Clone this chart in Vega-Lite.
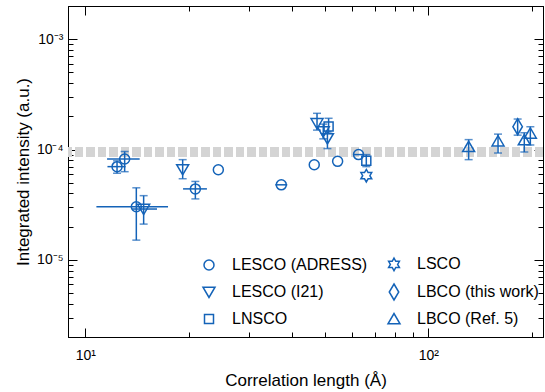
{
  "$schema": "https://vega.github.io/schema/vega-lite/v6.json",
  "width": 475,
  "height": 331,
  "autosize": {"type": "none"},
  "padding": {"left": 68, "top": 6, "right": 2, "bottom": 55},
  "config": {
    "font": "Liberation Sans",
    "view": {"stroke": "black", "strokeWidth": 1},
    "axis": {
      "grid": false,
      "domainColor": "black",
      "domainWidth": 1,
      "tickColor": "black",
      "tickWidth": 1,
      "labelColor": "black",
      "titleColor": "black",
      "labelFontSize": 14,
      "titleFontSize": 17,
      "titleFontWeight": "normal",
      "labelFlush": false,
      "labelOverlap": false
    }
  },
  "data": {
    "values": [
      {"s": "LESCO (ADRESS)", "x": 12.37, "y": 7.0e-5, "xlo": 11.6, "xhi": 13.1, "ylo": 6.1e-5, "yhi": 7.9e-5},
      {"s": "LESCO (ADRESS)", "x": 13.02, "y": 8.2e-5, "xlo": 11.57, "xhi": 14.4, "ylo": 6.3e-5, "yhi": 9.6e-5},
      {"s": "LESCO (ADRESS)", "x": 20.93, "y": 4.4e-5, "xlo": 19.27, "xhi": 22.62, "ylo": 3.57e-5, "yhi": 5.14e-5},
      {"s": "LESCO (ADRESS)", "x": 24.42, "y": 6.56e-5, "xlo": null, "xhi": null, "ylo": null, "yhi": null},
      {"s": "LESCO (ADRESS)", "x": 14.08, "y": 3.03e-5, "xlo": 10.77, "xhi": 17.42, "ylo": 1.51e-5, "yhi": 4.5e-5},
      {"s": "LESCO (ADRESS)", "x": 37.27, "y": 4.79e-5, "xlo": 35.8, "xhi": 38.8, "ylo": null, "yhi": null},
      {"s": "LESCO (ADRESS)", "x": 46.5, "y": 7.29e-5, "xlo": null, "xhi": null, "ylo": null, "yhi": null},
      {"s": "LESCO (ADRESS)", "x": 54.4, "y": 7.82e-5, "xlo": null, "xhi": null, "ylo": null, "yhi": null},
      {"s": "LESCO (ADRESS)", "x": 62.6, "y": 9.0e-5, "xlo": 60.5, "xhi": 64.8, "ylo": null, "yhi": null},
      {"s": "LESCO (I21)", "x": 14.79, "y": 2.89e-5, "xlo": 13.68, "xhi": 16.18, "ylo": 2.11e-5, "yhi": 3.82e-5},
      {"s": "LESCO (I21)", "x": 19.22, "y": 6.61e-5, "xlo": null, "xhi": null, "ylo": 5.44e-5, "yhi": 8.1e-5},
      {"s": "LESCO (I21)", "x": 47.37, "y": 1.73e-4, "xlo": null, "xhi": null, "ylo": 1.5e-4, "yhi": 2.13e-4},
      {"s": "LESCO (I21)", "x": 49.4, "y": 1.46e-4, "xlo": null, "xhi": null, "ylo": 1.25e-4, "yhi": 1.7e-4},
      {"s": "LESCO (I21)", "x": 50.8, "y": 1.26e-4, "xlo": null, "xhi": null, "ylo": 1.02e-4, "yhi": 1.45e-4},
      {"s": "LNSCO", "x": 51.2, "y": 1.62e-4, "xlo": null, "xhi": null, "ylo": 1.4e-4, "yhi": 1.92e-4},
      {"s": "LNSCO", "x": 65.95, "y": 7.93e-5, "xlo": null, "xhi": null, "ylo": 7.0e-5, "yhi": 9.0e-5},
      {"s": "LSCO", "x": 65.95, "y": 5.79e-5, "xlo": null, "xhi": null, "ylo": null, "yhi": null},
      {"s": "LBCO (this work)", "x": 182.2, "y": 1.61e-4, "xlo": null, "xhi": null, "ylo": 1.35e-4, "yhi": 1.89e-4},
      {"s": "LBCO (Ref. 5)", "x": 131.1, "y": 1.06e-4, "xlo": null, "xhi": null, "ylo": 8.1e-5, "yhi": 1.23e-4},
      {"s": "LBCO (Ref. 5)", "x": 159.7, "y": 1.19e-4, "xlo": null, "xhi": null, "ylo": 9.3e-5, "yhi": 1.38e-4},
      {"s": "LBCO (Ref. 5)", "x": 190.5, "y": 1.22e-4, "xlo": null, "xhi": null, "ylo": 9.5e-5, "yhi": 1.42e-4},
      {"s": "LBCO (Ref. 5)", "x": 198.4, "y": 1.4e-4, "xlo": null, "xhi": null, "ylo": 1.1e-4, "yhi": 1.61e-4}
    ]
  },
  "layer": [
    {
      "layer": [
        {
          "mark": {"type": "rule", "color": "#d4d4d4", "strokeWidth": 9, "strokeDash": [8, 3.5]},
          "encoding": {
            "y": {"datum": 9.5e-5, "type": "quantitative", "scale": {"type": "log", "domain": [2e-6, 2e-3], "nice": false}}
          }
        },
        {
          "transform": [{"filter": "isValid(datum.xlo)"}],
          "mark": {"type": "rule", "color": "#1463b8", "strokeWidth": 1.5},
          "encoding": {
            "x": {"field": "xlo", "type": "quantitative", "scale": {"type": "log", "domain": [8.9, 216], "nice": false}},
            "x2": {"field": "xhi"},
            "y": {"field": "y", "type": "quantitative"}
          }
        },
        {
          "transform": [{"filter": "isValid(datum.ylo)"}],
          "mark": {"type": "rule", "color": "#1463b8", "strokeWidth": 1.5},
          "encoding": {
            "x": {"field": "x", "type": "quantitative"},
            "y": {"field": "ylo", "type": "quantitative"},
            "y2": {"field": "yhi"}
          }
        },
        {
          "transform": [{"filter": "isValid(datum.ylo)"}],
          "mark": {"type": "tick", "orient": "horizontal", "color": "#1463b8", "size": 8, "thickness": 1.5},
          "encoding": {
            "x": {"field": "x", "type": "quantitative"},
            "y": {"field": "ylo", "type": "quantitative"}
          }
        },
        {
          "transform": [{"filter": "isValid(datum.yhi)"}],
          "mark": {"type": "tick", "orient": "horizontal", "color": "#1463b8", "size": 8, "thickness": 1.5},
          "encoding": {
            "x": {"field": "x", "type": "quantitative"},
            "y": {"field": "yhi", "type": "quantitative"}
          }
        },
        {
          "mark": {"type": "point", "filled": false, "color": "#1463b8", "strokeWidth": 1.5, "size": 100, "opacity": 1},
          "encoding": {
            "x": {
              "field": "x", "type": "quantitative",
              "scale": {"type": "log", "domain": [8.9, 216], "nice": false},
              "axis": {
                "orient": "bottom",
                "values": [10, 20, 30, 40, 50, 60, 70, 80, 90, 100, 200],
                "labelExpr": "datum.value == 10 ? '10¹' : datum.value == 100 ? '10²' : ''",
                "tickSize": {"condition": {"test": "datum.value == 10 || datum.value == 100", "value": -9}, "value": -5},
                "labelPadding": 20,
                "title": "Correlation length (Å)",
                "titleX": 237.5,
                "titleY": 48,
                "titleBaseline": "alphabetic",
                "titleAlign": "center"
              }
            },
            "y": {
              "field": "y", "type": "quantitative",
              "scale": {"type": "log", "domain": [2e-6, 2e-3], "nice": false},
              "axis": {
                "orient": "left",
                "values": [2e-6, 3e-6, 4e-6, 5e-6, 6e-6, 7e-6, 8e-6, 9e-6, 1e-5, 2e-5, 3e-5, 4e-5, 5e-5, 6e-5, 7e-5, 8e-5, 9e-5, 1e-4, 2e-4, 3e-4, 4e-4, 5e-4, 6e-4, 7e-4, 8e-4, 9e-4, 1e-3, 2e-3],
                "labelExpr": "abs(log(datum.value)/LN10 + 3) < 0.001 ? '10⁻³' : abs(log(datum.value)/LN10 + 4) < 0.001 ? '10⁻⁴' : abs(log(datum.value)/LN10 + 5) < 0.001 ? '10⁻⁵' : ''",
                "tickSize": {"condition": {"test": "abs(log(datum.value)/LN10 - round(log(datum.value)/LN10)) < 0.001", "value": -9}, "value": -5},
                "labelPadding": 14,
                "title": "Integrated intensity (a.u.)",
                "titleX": -40,
                "titleY": 165.5,
                "titleBaseline": "alphabetic",
                "titleAlign": "center",
                "titleAngle": -90
              }
            },
            "shape": {
              "field": "s", "type": "nominal",
              "scale": {
                "domain": ["LESCO (ADRESS)", "LESCO (I21)", "LNSCO", "LSCO", "LBCO (this work)", "LBCO (Ref. 5)"],
                "range": [
                  "circle",
                  "M-1.2,-0.95L1.2,-0.95L0,1.1Z",
                  "M-0.9,-0.9L0.9,-0.9L0.9,0.9L-0.9,0.9Z",
                  "M0,-1.25L0.36,-0.625L1.08,-0.625L0.72,0L1.08,0.625L0.36,0.625L0,1.25L-0.36,0.625L-1.08,0.625L-0.72,0L-1.08,-0.625L-0.36,-0.625Z",
                  "M0,-1.6L0.95,0L0,1.6L-0.95,0Z",
                  "M-1.2,0.95L1.2,0.95L0,-1.1Z"
                ]
              },
              "legend": {
                "orient": "none",
                "legendX": 133,
                "legendY": 250,
                "columns": 2,
                "title": null,
                "padding": 0,
                "labelFontSize": 16,
                "labelColor": "black",
                "labelOffset": 15,
                "rowPadding": 7,
                "columnPadding": 17,
                "symbolSize": 100,
                "symbolStrokeWidth": 1.5,
                "symbolStrokeColor": "#1463b8",
                "symbolFillColor": "transparent"
              }
            }
          }
        }
      ]
    },
    {
      "mark": {"type": "point", "opacity": 0},
      "encoding": {
        "x": {
          "field": "x", "type": "quantitative",
          "scale": {"type": "log", "domain": [8.9, 216], "nice": false},
          "axis": {
            "orient": "top",
            "values": [10, 20, 30, 40, 50, 60, 70, 80, 90, 100, 200],
            "labels": false,
            "title": null,
            "tickSize": {"condition": {"test": "datum.value == 10 || datum.value == 100", "value": -9}, "value": -5}
          }
        },
        "y": {
          "field": "y", "type": "quantitative",
          "scale": {"type": "log", "domain": [2e-6, 2e-3], "nice": false},
          "axis": {
            "orient": "right",
            "values": [2e-6, 3e-6, 4e-6, 5e-6, 6e-6, 7e-6, 8e-6, 9e-6, 1e-5, 2e-5, 3e-5, 4e-5, 5e-5, 6e-5, 7e-5, 8e-5, 9e-5, 1e-4, 2e-4, 3e-4, 4e-4, 5e-4, 6e-4, 7e-4, 8e-4, 9e-4, 1e-3, 2e-3],
            "labels": false,
            "title": null,
            "tickSize": {"condition": {"test": "abs(log(datum.value)/LN10 - round(log(datum.value)/LN10)) < 0.001", "value": -9}, "value": -5}
          }
        }
      }
    }
  ],
  "resolve": {
    "scale": {"x": "independent", "y": "independent"},
    "axis": {"x": "independent", "y": "independent"}
  }
}
